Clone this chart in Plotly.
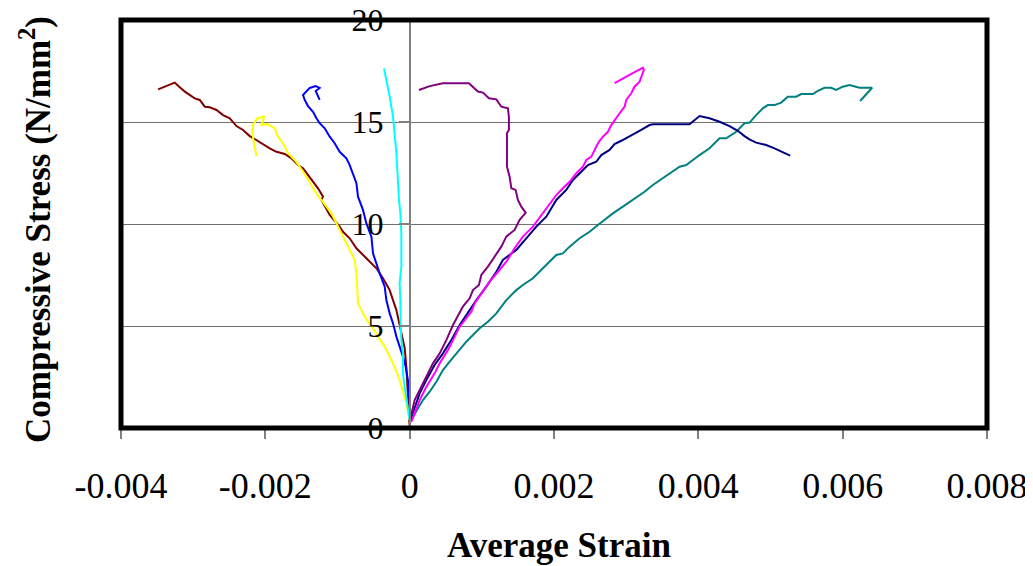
import plotly.graph_objects as go

# Stress-strain curves (strain, stress in N/mm^2)
s1_x = [0, -0.000024, -0.000046, -0.000069, -0.000093, -0.000139, -0.000184, -0.000231, -0.000277, -0.00037,
        -0.000461, -0.0006, -0.000738, -0.000831, -0.000924, -0.00097, -0.001108, -0.001223, -0.001201, -0.00127,
        -0.001339, -0.001409, -0.001478, -0.001547, -0.001638, -0.001731, -0.001846, -0.001939, -0.002032,
        -0.002123, -0.002216, -0.002309, -0.0024, -0.002493, -0.002586, -0.002677, -0.00277, -0.002839,
        -0.002909, -0.002978, -0.003047, -0.003116, -0.003186, -0.003255, -0.003486]
s1_y = [0.06, 2.02, 3.00, 3.91, 4.31, 4.97, 5.78, 6.27, 6.76, 7.34,
        7.83, 8.32, 8.81, 9.30, 9.62, 9.87, 10.44, 11.18, 11.34, 11.75,
        12.07, 12.40, 12.73, 12.89, 13.22, 13.43, 13.54, 13.71, 13.92,
        14.12, 14.31, 14.61, 14.80, 15.18, 15.34, 15.59, 15.72, 15.75,
        16.08, 16.16, 16.32, 16.49, 16.70, 16.93, 16.60]

s2_x = [0, -0.000046, -0.000093, -0.000139, -0.000208, -0.000277, -0.000346, -0.000439, -0.000508, -0.000578,
        -0.000647, -0.000716, -0.000738, -0.000762, -0.000831, -0.000877, -0.00097, -0.001084, -0.001223,
        -0.001247, -0.001339, -0.001431, -0.001524, -0.001593, -0.001686, -0.001755, -0.001824, -0.00187,
        -0.001967, -0.002054, -0.002012, -0.002119, -0.00217, -0.002179, -0.002161, -0.002123]
s2_y = [0.39, 1.21, 1.78, 2.35, 3.00, 3.50, 3.99, 4.48, 4.89, 5.21,
        5.62, 6.11, 7.58, 8.24, 8.73, 9.05, 9.71, 10.52, 11.18,
        11.26, 11.75, 12.32, 12.81, 13.14, 13.47, 13.96, 14.28, 14.69,
        14.90, 14.85, 15.29, 15.15, 14.85, 14.45, 14.03, 13.33]

s3_x = [0.00001, 0, -0.000024, -0.000055, -0.000093, -0.000139, -0.000184, -0.000231, -0.000277, -0.000323,
        -0.000346, -0.000416, -0.000461, -0.000508, -0.00053, -0.0006, -0.000647, -0.000693, -0.000716,
        -0.000738, -0.000785, -0.000831, -0.000877, -0.00097, -0.001039, -0.001108, -0.001177, -0.001247,
        -0.001292, -0.001339, -0.001409, -0.001454, -0.001478, -0.001385, -0.001302, -0.001247, -0.001302,
        -0.001247]
s3_y = [0.39, 1.37, 2.35, 3.00, 3.50, 3.99, 4.48, 5.13, 5.62, 6.27,
        6.93, 7.58, 8.07, 8.56, 9.38, 10.03, 10.69, 11.18, 11.34,
        12.00, 12.49, 12.89, 13.22, 13.54, 13.96, 14.28, 14.69, 14.94,
        15.18, 15.50, 15.78, 16.08, 16.32, 16.67, 16.76, 16.67, 16.52,
        16.08]

s4_x = [0, -0.000046, -0.000069, -0.000093, -0.000093, -0.000115, -0.000125, -0.000129, -0.000139, -0.000115,
        -0.000115, -0.000129, -0.000148, -0.000184, -0.000208, -0.000231, -0.000277, -0.000323, -0.000356]
s4_y = [0.39, 1.37, 2.02, 2.68, 3.66, 4.31, 4.97, 6.27, 7.09, 7.91,
        9.54, 10.52, 11.18, 13.47, 14.45, 15.26, 16.24, 17.06, 17.63]

s5_x = [0, 0.000024, 0.000069, 0.000139, 0.000231, 0.000323, 0.000416, 0.000508, 0.0006, 0.000669,
        0.000738, 0.000831, 0.000877, 0.00096, 0.000993, 0.001084, 0.001177, 0.00127, 0.001339, 0.001454,
        0.001524, 0.001607, 0.001547, 0.0015, 0.001468, 0.001409, 0.001385, 0.001348, 0.001348, 0.001375,
        0.001375, 0.001361, 0.00127, 0.001201, 0.001098, 0.001015, 0.000946, 0.000877, 0.000821, 0.000461,
        0.000277, 0.000129]
s5_y = [0.31, 0.72, 1.37, 1.86, 2.51, 3.17, 3.66, 4.31, 5.05, 5.54,
        5.95, 6.36, 6.76, 7.01, 7.50, 7.91, 8.40, 8.89, 9.38, 9.71,
        10.20, 10.55, 10.85, 11.18, 11.67, 11.75, 12.32, 12.81, 14.45, 14.61,
        15.26, 15.67, 15.75, 16.11, 16.16, 16.44, 16.49, 16.70, 16.90, 16.90,
        16.76, 16.57]

s6_x = [0.000024, 0.000069, 0.000139, 0.000231, 0.000346, 0.000416, 0.00053, 0.0006, 0.000693, 0.000785,
        0.000855, 0.0009, 0.000993, 0.001108, 0.001223, 0.001339, 0.001454, 0.001569, 0.001708, 0.001846,
        0.001985, 0.002032, 0.002123, 0.002216, 0.002309, 0.002401, 0.002448, 0.002517, 0.002586, 0.002622,
        0.002678, 0.002747, 0.002794, 0.002853, 0.002909, 0.002978, 0.003001, 0.003071, 0.003116, 0.003186,
        0.003209, 0.003245, 0.003231, 0.002839]
s6_y = [0.31, 0.72, 1.37, 2.02, 2.68, 3.17, 3.82, 4.31, 4.97, 5.38,
        5.70, 6.11, 6.60, 7.17, 7.66, 8.15, 8.81, 9.38, 9.87, 10.52,
        11.18, 11.42, 11.75, 12.07, 12.49, 12.81, 13.14, 13.30, 13.79, 14.03,
        14.28, 14.52, 14.85, 15.18, 15.43, 15.75, 16.08, 16.41, 16.73, 16.98,
        17.22, 17.55, 17.66, 16.90]

s7_x = [0.00001, 0.000069, 0.000139, 0.000231, 0.000346, 0.000461, 0.000578, 0.000693, 0.000831, 0.000924,
        0.001062, 0.001201, 0.001292, 0.001478, 0.001616, 0.001755, 0.001893, 0.002032, 0.00217, 0.002262,
        0.002378, 0.00247, 0.002586, 0.002655, 0.00277, 0.002839, 0.002932, 0.003024, 0.003116, 0.003209,
        0.003324, 0.00337, 0.003878, 0.004017, 0.004155, 0.004294, 0.004432, 0.004547, 0.00464, 0.004709,
        0.004802, 0.00494, 0.005055, 0.00517, 0.005273]
s7_y = [0.39, 1.04, 1.70, 2.35, 3.09, 3.66, 4.31, 5.05, 5.78, 6.27,
        6.93, 7.66, 8.24, 8.73, 9.30, 9.87, 10.36, 11.18, 11.67, 12.16,
        12.56, 12.89, 13.05, 13.38, 13.63, 13.92, 14.08, 14.25, 14.45, 14.61,
        14.85, 14.89, 14.89, 15.29, 15.18, 15.01, 14.80, 14.57, 14.31, 14.15,
        13.99, 13.87, 13.71, 13.54, 13.35]

s8_x = [0.00001, 0.000046, 0.000115, 0.000184, 0.000277, 0.00037, 0.000461, 0.000554, 0.000669, 0.000785,
        0.000877, 0.00097, 0.001084, 0.001201, 0.001339, 0.001478, 0.001569, 0.001708, 0.001846, 0.001939,
        0.002032, 0.002123, 0.002216, 0.002355, 0.002493, 0.002608, 0.002724, 0.002816, 0.002954, 0.003093,
        0.003255, 0.00337, 0.003508, 0.003624, 0.00374, 0.003832, 0.003924, 0.004017, 0.004155, 0.004294,
        0.004386, 0.004525, 0.00464, 0.004709, 0.004802, 0.004894, 0.004963, 0.005055, 0.005148, 0.00524,
        0.005356, 0.005425, 0.005586, 0.005656, 0.005748, 0.00584, 0.005909, 0.006002, 0.006094, 0.006163,
        0.006233, 0.006409, 0.006326, 0.006242]
s8_y = [0.31, 0.55, 0.97, 1.37, 1.78, 2.27, 2.84, 3.25, 3.74, 4.23,
        4.56, 4.89, 5.21, 5.62, 6.27, 6.76, 7.01, 7.34, 7.83, 8.15,
        8.48, 8.56, 8.89, 9.30, 9.62, 9.95, 10.28, 10.52, 10.85, 11.18,
        11.58, 11.91, 12.24, 12.56, 12.81, 12.89, 13.14, 13.38, 13.71, 14.20,
        14.20, 14.52, 14.94, 14.97, 15.34, 15.67, 15.83, 15.83, 15.95, 16.24,
        16.24, 16.37, 16.37, 16.53, 16.68, 16.68, 16.57, 16.73, 16.81, 16.76,
        16.68, 16.68, 16.37, 16.03]

series = [
    (s8_x, s8_y, "#008080"),
    (s7_x, s7_y, "#000080"),
    (s6_x, s6_y, "#FF00FF"),
    (s5_x, s5_y, "#800080"),
    (s1_x, s1_y, "#800000"),
    (s2_x, s2_y, "#FFFF00"),
    (s3_x, s3_y, "#0000FF"),
    (s4_x, s4_y, "#00FFFF"),
]

x_ticks = [-0.004, -0.002, 0, 0.002, 0.004, 0.006, 0.008]
x_tick_text = ["-0.004", "-0.002", "0", "0.002", "0.004", "0.006", "0.008"]
y_ticks = [0, 5, 10, 15, 20]
y_tick_text = ["0", "5", "10", "15", "20"]

FONT = "Liberation Serif, Times New Roman, serif"

# page body has an 8px margin: figure is sized/offset to compensate
OFF = 8
FW, FH = 1033 - OFF, 566 - OFF
PL, PT, PW, PH = 121, 20, 866, 408  # plot area in page pixels

fig = go.Figure()
for xs, ys, col in series:
    fig.add_trace(go.Scatter(x=xs, y=ys, mode="lines",
                             line=dict(color=col, width=2), showlegend=False,
                             hoverinfo="skip"))

fig.update_layout(
    width=FW, height=FH,
    margin=dict(l=PL - OFF, r=FW - (PL - OFF) - PW, t=PT - OFF, b=FH - (PT - OFF) - PH, autoexpand=False),
    paper_bgcolor="white", plot_bgcolor="white",
    font=dict(family=FONT, color="black"),
    showlegend=False,
    xaxis=dict(range=[-0.004, 0.008], tickvals=x_ticks, ticktext=x_tick_text,
               ticks="outside", ticklen=10, tickwidth=1.5, tickcolor="#808080",
               showgrid=False, zeroline=False, showline=False, automargin=False,
               tickfont=dict(family=FONT, size=36, color="black"),
               ticklabelstandoff=16, ticklabeloverflow="allow"),
    yaxis=dict(range=[0, 20], tickvals=y_ticks, ticktext=y_tick_text,
               anchor="free", position=1/3, side="left", automargin=False,
               ticks="outside", ticklen=10, tickwidth=1.5, tickcolor="#808080",
               showline=True, linecolor="#808080", linewidth=1.5,
               showgrid=True, gridcolor="#707070", gridwidth=1,
               zeroline=False,
               tickfont=dict(family=FONT, size=32, color="black"),
               ticklabelstandoff=9, ticklabeloverflow="allow"),
)

fig.add_shape(type="rect", xref="paper", yref="paper", x0=0, x1=1, y0=0, y1=1,
              line=dict(color="black", width=5), layer="above")

fig.add_annotation(text="<b>Compressive Stress (N/mm<sup>2</sup>)</b>", textangle=-90,
                   xref="paper", yref="paper", x=(36 - PL) / PW, y=(PT + PH - 230) / PH,
                   xanchor="center", yanchor="middle", showarrow=False,
                   font=dict(family=FONT, size=35, color="black"))
fig.add_annotation(text="<b>Average Strain</b>",
                   xref="paper", yref="paper", x=(559 - PL) / PW, y=(PT + PH - 545) / PH,
                   xanchor="center", yanchor="middle", showarrow=False,
                   font=dict(family=FONT, size=35, color="black"))

fig.write_html("out.html")
